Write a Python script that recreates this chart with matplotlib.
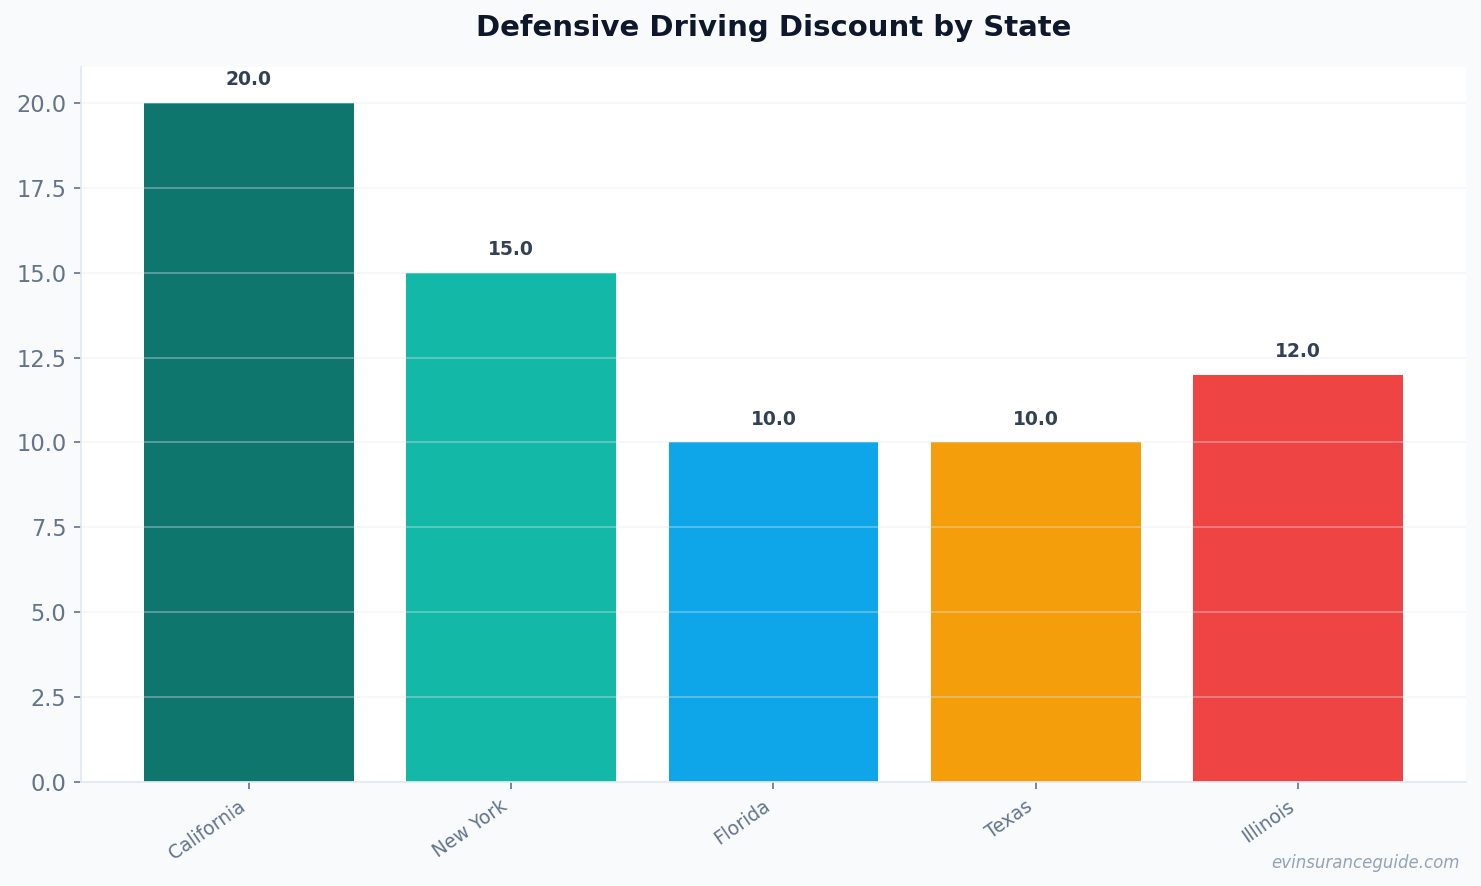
import matplotlib.pyplot as plt

states = ['California', 'New York', 'Florida', 'Texas', 'Illinois']
discounts = [20.0, 15.0, 10.0, 10.0, 12.0]
colors = ['#0f766e', '#14b8a6', '#0ea5e9', '#f59e0b', '#ef4444']

fig = plt.figure(figsize=(1481 / 150, 886 / 150), dpi=150, facecolor='#f8fafc')
ax = fig.add_axes([81 / 1481, 1 - 782 / 886, (1466 - 81) / 1481, (782 - 67) / 886])
ax.set_facecolor('white')

x = range(len(states))
ax.bar(x, discounts, width=0.8, color=colors)

for i, v in zip(x, discounts):
    ax.text(i, v + 0.4, f'{v:.1f}', ha='center', va='bottom',
            fontsize=9, fontweight='bold', color='#334155')

ax.set_ylim(0, 21.06)
ax.set_xticks(list(x))
ax.set_xticklabels(states, rotation=35, ha='right')
ax.tick_params(axis='x', labelsize=9, colors='#64748b', length=3.5)
ax.tick_params(axis='y', labelsize=10.8, colors='#64748b', length=3.5)
ax.yaxis.set_major_locator(plt.MultipleLocator(2.5))

ax.grid(axis='y', color='#e2e8f0', alpha=0.4, linewidth=0.8)

for side in ['top', 'right']:
    ax.spines[side].set_visible(False)
for side in ['left', 'bottom']:
    ax.spines[side].set_color('#e2e8f0')

ax.set_title('Defensive Driving Discount by State', fontsize=14, fontweight='bold',
             color='#0f172a', pad=15)

fig.text(1460 / 1481, 1 - 868 / 886, 'evinsuranceguide.com', ha='right', va='baseline',
         fontsize=8, style='italic', color='#94a3b8')

fig.savefig('out.png', dpi=150, facecolor=fig.get_facecolor())
